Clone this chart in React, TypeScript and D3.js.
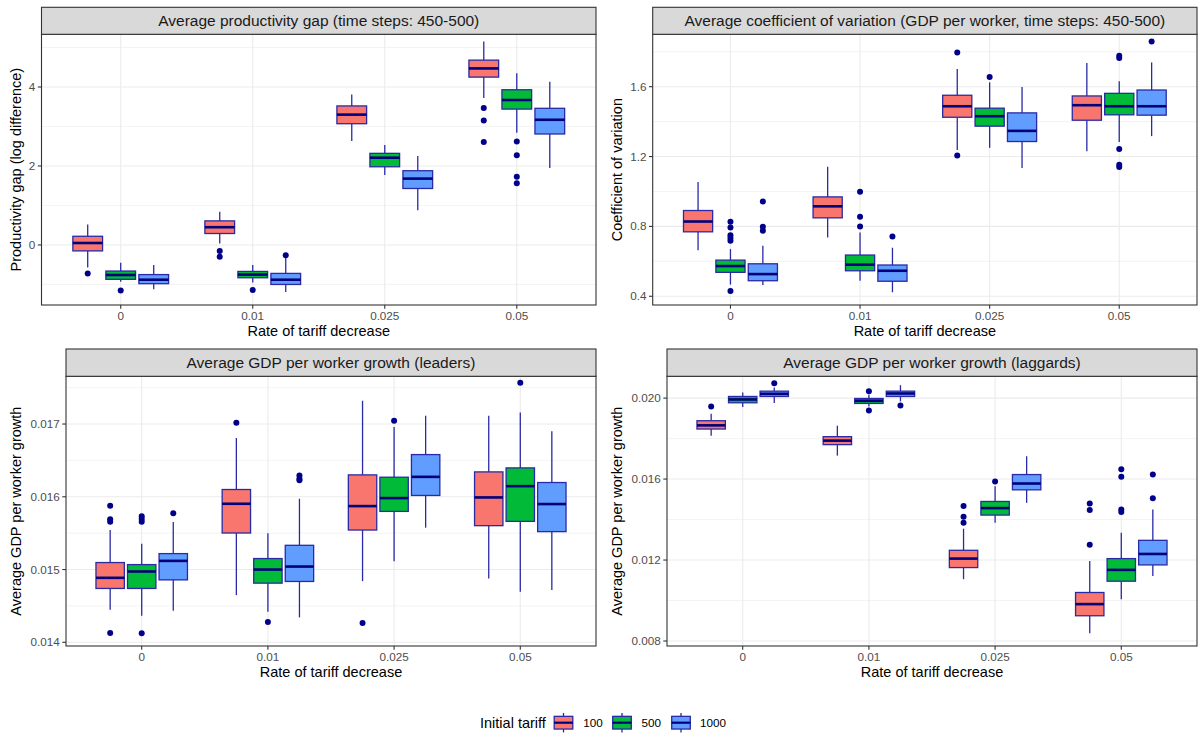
import React from "react";
import * as d3 from "d3";

// ---------- data ----------
const rates = ["0", "0.01", "0.025", "0.05"];
const tariffs = ["100", "500", "1000"];
const tariffColors = ["#F8766D", "#00BA38", "#619CFF"];

// box stats: [lower whisker, Q1, median, Q3, upper whisker]; rows = rate, cols = initial tariff
const gapBoxes = [
  [[-0.57, -0.15, 0.05, 0.22, 0.52], [-0.93, -0.87, -0.76, -0.66, -0.45], [-1.12, -0.98, -0.88, -0.75, -0.51]],
  [[0.04, 0.29, 0.45, 0.61, 0.84], [-0.95, -0.83, -0.75, -0.67, -0.51], [-1.19, -1.0, -0.88, -0.72, -0.32]],
  [[2.63, 3.07, 3.3, 3.52, 3.81], [1.77, 1.98, 2.21, 2.32, 2.53], [0.88, 1.43, 1.68, 1.88, 2.25]],
  [[3.72, 4.25, 4.47, 4.68, 5.15], [2.84, 3.44, 3.67, 3.93, 4.35], [1.95, 2.81, 3.17, 3.46, 4.13]],
];
const gapOutliers = [
  [[-0.72], [-1.15], []],
  [[-0.15, -0.3], [-1.14], [-0.26]],
  [[], [], []],
  [[3.47, 3.15, 2.61], [2.62, 2.27, 1.73, 1.56], []],
];

const cvBoxes = [
  [[0.664, 0.769, 0.828, 0.891, 1.054], [0.467, 0.537, 0.573, 0.607, 0.67], [0.465, 0.489, 0.527, 0.586, 0.689]],
  [[0.737, 0.849, 0.915, 0.969, 1.142], [0.489, 0.546, 0.581, 0.636, 0.765], [0.423, 0.486, 0.546, 0.579, 0.678]],
  [[1.237, 1.425, 1.488, 1.551, 1.701], [1.25, 1.374, 1.431, 1.477, 1.625], [1.134, 1.286, 1.347, 1.45, 1.598]],
  [[1.231, 1.408, 1.494, 1.547, 1.735], [1.283, 1.439, 1.488, 1.562, 1.631], [1.317, 1.437, 1.488, 1.581, 1.739]],
];
const cvOutliers = [
  [[], [0.826, 0.794, 0.75, 0.733, 0.718, 0.43], [0.942, 0.798, 0.775]],
  [[], [0.999, 0.855, 0.8], [0.742]],
  [[1.796, 1.206], [1.655], []],
  [[], [1.777, 1.764, 1.243, 1.153, 1.14], [1.859]],
];

const leadBoxes = [
  [[0.014447, 0.01474, 0.014886, 0.015096, 0.015543], [0.014365, 0.01474, 0.014973, 0.015068, 0.015356], [0.014434, 0.014858, 0.015119, 0.015219, 0.015653]],
  [[0.014648, 0.015502, 0.015904, 0.0161, 0.016808], [0.01442, 0.014813, 0.015, 0.015151, 0.015498], [0.014342, 0.014836, 0.015041, 0.015333, 0.015973]],
  [[0.01484, 0.015543, 0.015872, 0.016301, 0.01732], [0.015114, 0.015799, 0.015982, 0.016269, 0.016959], [0.015575, 0.016018, 0.016274, 0.01658, 0.017114]],
  [[0.014877, 0.015603, 0.015991, 0.016342, 0.017114], [0.014694, 0.015662, 0.016146, 0.016397, 0.01716], [0.014717, 0.015521, 0.0159, 0.016196, 0.0169]],
];
const leadOutliers = [
  [[0.015877, 0.01569, 0.015658, 0.014128], [0.015731, 0.015694, 0.015658, 0.014123], [0.015772]],
  [[0.017018], [0.014279], [0.016292, 0.016247, 0.016228]],
  [[0.014265], [0.017046], []],
  [[], [0.017566], []],
];

const lagBoxes = [
  [[0.018144, 0.018472, 0.018653, 0.018883, 0.019227], [0.019556, 0.019769, 0.019933, 0.020081, 0.020278], [0.019752, 0.020081, 0.020212, 0.020343, 0.020524]],
  [[0.017159, 0.017701, 0.017898, 0.018095, 0.018636], [0.019588, 0.019736, 0.019867, 0.019982, 0.020163], [0.019834, 0.020081, 0.020228, 0.020343, 0.020639]],
  [[0.011053, 0.011627, 0.012071, 0.012481, 0.013548], [0.013843, 0.014221, 0.014566, 0.014894, 0.015649], [0.014828, 0.015468, 0.01578, 0.016223, 0.017126]],
  [[0.008378, 0.009247, 0.009822, 0.010396, 0.011956], [0.010068, 0.010955, 0.011513, 0.012071, 0.013351], [0.011217, 0.011759, 0.0123, 0.012973, 0.0145]],
];
const lagOutliers = [
  [[0.019588], [], [0.020737]],
  [[], [0.020343, 0.019391], [0.019638]],
  [[0.014664, 0.014139, 0.013843], [0.015879], []],
  [[0.014795, 0.014467, 0.01276], [0.016486, 0.016109, 0.0145, 0.014369], [0.016223, 0.015058]],
];

const gapTicks = [0, 2, 4];
const cvTicks = [0.4, 0.8, 1.2, 1.6];
const leadTicks = [0.014, 0.015, 0.016, 0.017];
const lagTicks = [0.008, 0.012, 0.016, 0.02];

// ---------- style ----------
const FONT = "'Liberation Sans', Arial, Helvetica, sans-serif";
const OUTLINE = "#2A2AA6";
const MEDIAN = "#00007A";
const POINT = "#00008B";
const GRID = "#EBEBEB";
const BORDER = "#333333";

type PanelCfg = {
  title: string;
  ylab: string;
  left: number;
  right: number;
  stripTop: number;
  top: number;
  bottom: number;
  domain: [number, number];
  ticks: number[];
  fmt: (v: number) => string;
  ylabX: number;
  boxes: number[][][];
  outliers: number[][][];
};

const panels: PanelCfg[] = [
  {
    title: "Average productivity gap (time steps: 450-500)",
    ylab: "Productivity gap (log difference)",
    left: 41.5, right: 596, stripTop: 7.3, top: 34.3, bottom: 305,
    domain: [-1.52, 5.334], ticks: gapTicks, fmt: d3.format("d"), ylabX: 20.5,
    boxes: gapBoxes, outliers: gapOutliers,
  },
  {
    title: "Average coefficient of variation (GDP per worker, time steps: 450-500)",
    ylab: "Coefficient of variation",
    left: 652.7, right: 1197, stripTop: 7.3, top: 34.3, bottom: 305,
    domain: [0.35, 1.9], ticks: cvTicks, fmt: d3.format(".1f"), ylabX: 622,
    boxes: cvBoxes, outliers: cvOutliers,
  },
  {
    title: "Average GDP per worker growth (leaders)",
    ylab: "Average GDP per worker growth",
    left: 66, right: 596, stripTop: 349, top: 376.3, bottom: 646,
    domain: [0.013949, 0.017656], ticks: leadTicks, fmt: d3.format(".3f"), ylabX: 20.5,
    boxes: leadBoxes, outliers: leadOutliers,
  },
  {
    title: "Average GDP per worker growth (laggards)",
    ylab: "Average GDP per worker growth",
    left: 667, right: 1197, stripTop: 349, top: 376.3, bottom: 646,
    domain: [0.007753, 0.021077], ticks: lagTicks, fmt: d3.format(".3f"), ylabX: 622,
    boxes: lagBoxes, outliers: lagOutliers,
  },
];

function Panel({ p }: { p: PanelCfg }) {
  const x = d3.scalePoint<string>().domain(rates).range([p.left, p.right]).padding(0.6);
  const step = x.step();
  const inner = d3.scaleBand<string>().domain(tariffs).range([-0.375 * step, 0.375 * step]);
  const bw = inner.bandwidth() * 0.9;
  const y = d3.scaleLinear().domain(p.domain).range([p.bottom, p.top]);
  const minor: number[] = [];
  const tstep = p.ticks[1] - p.ticks[0];
  for (let i = -1; i < p.ticks.length + 1; i++) {
    const v = p.ticks[0] + (i + 0.5) * tstep;
    if (v > p.domain[0] && v < p.domain[1]) minor.push(v);
  }
  const cx0 = (p.left + p.right) / 2;
  const cy0 = (p.top + p.bottom) / 2;
  return (
    <g>
      <rect x={p.left} y={p.top} width={p.right - p.left} height={p.bottom - p.top} fill="#fff" />
      {minor.map((v, i) => (
        <line key={"mn" + i} x1={p.left} x2={p.right} y1={y(v)} y2={y(v)} stroke={GRID} strokeWidth={0.6} />
      ))}
      {p.ticks.map((v, i) => (
        <line key={"mj" + i} x1={p.left} x2={p.right} y1={y(v)} y2={y(v)} stroke={GRID} strokeWidth={1.1} />
      ))}
      {rates.map((r) => (
        <line key={"vx" + r} x1={x(r)} x2={x(r)} y1={p.top} y2={p.bottom} stroke={GRID} strokeWidth={1.1} />
      ))}
      {rates.map((r, i) =>
        tariffs.map((t, j) => {
          const s = p.boxes[i][j];
          const cx = (x(r) as number) + (inner(t) as number) + inner.bandwidth() / 2;
          return (
            <g key={r + "-" + t}>
              <line x1={cx} x2={cx} y1={y(s[0])} y2={y(s[1])} stroke={OUTLINE} strokeWidth={1.3} />
              <line x1={cx} x2={cx} y1={y(s[3])} y2={y(s[4])} stroke={OUTLINE} strokeWidth={1.3} />
              <rect x={cx - bw / 2} y={y(s[3])} width={bw} height={y(s[1]) - y(s[3])} fill={tariffColors[j]} stroke={OUTLINE} strokeWidth={1.3} />
              <line x1={cx - bw / 2} x2={cx + bw / 2} y1={y(s[2])} y2={y(s[2])} stroke={MEDIAN} strokeWidth={2.6} />
              {p.outliers[i][j].map((o, k) => (
                <circle key={k} cx={cx} cy={y(o)} r={3} fill={POINT} />
              ))}
            </g>
          );
        })
      )}
      <rect x={p.left} y={p.top} width={p.right - p.left} height={p.bottom - p.top} fill="none" stroke={BORDER} strokeWidth={1.1} />
      <rect x={p.left} y={p.stripTop} width={p.right - p.left} height={p.top - p.stripTop} fill="#D9D9D9" stroke={BORDER} strokeWidth={1.1} />
      <text x={cx0} y={(p.stripTop + p.top) / 2 + 5.4} textAnchor="middle" fontSize={15.5} fill="#1A1A1A" fontFamily={FONT}>
        {p.title}
      </text>
      {p.ticks.map((v, i) => (
        <g key={"yt" + i}>
          <line x1={p.left - 3.7} x2={p.left} y1={y(v)} y2={y(v)} stroke={BORDER} strokeWidth={1.1} />
          <text x={p.left - 6.3} y={y(v) + 4} textAnchor="end" fontSize={11.7} fill="#4D4D4D" fontFamily={FONT}>
            {p.fmt(v)}
          </text>
        </g>
      ))}
      {rates.map((r) => (
        <g key={"xt" + r}>
          <line x1={x(r)} x2={x(r)} y1={p.bottom} y2={p.bottom + 3.7} stroke={BORDER} strokeWidth={1.1} />
          <text x={x(r)} y={p.bottom + 14.5} textAnchor="middle" fontSize={11.7} fill="#4D4D4D" fontFamily={FONT}>
            {r}
          </text>
        </g>
      ))}
      <text x={cx0} y={p.bottom + 31} textAnchor="middle" fontSize={14.5} fill="#000" fontFamily={FONT}>
        Rate of tariff decrease
      </text>
      <text transform={`translate(${p.ylabX},${cy0}) rotate(-90)`} textAnchor="middle" fontSize={14.5} fill="#000" fontFamily={FONT}>
        {p.ylab}
      </text>
    </g>
  );
}

function Legend() {
  const keyX = [563.5, 622, 681];
  const labX = [583.3, 641.5, 700];
  const cy = 722.7;
  const kw = 18.6;
  const kh = 12.7;
  return (
    <g>
      <text x={480} y={727.5} fontSize={14.5} fill="#000" fontFamily={FONT}>
        Initial tariff
      </text>
      {tariffs.map((t, j) => (
        <g key={t}>
          <line x1={keyX[j]} x2={keyX[j]} y1={cy - 9.7} y2={cy + 9.7} stroke={OUTLINE} strokeWidth={1.3} />
          <rect x={keyX[j] - kw / 2} y={cy - kh / 2} width={kw} height={kh} fill={tariffColors[j]} stroke={OUTLINE} strokeWidth={1.3} />
          <line x1={keyX[j] - kw / 2} x2={keyX[j] + kw / 2} y1={cy} y2={cy} stroke={MEDIAN} strokeWidth={2.2} />
          <text x={labX[j]} y={cy + 4.2} fontSize={11.7} fill="#000" fontFamily={FONT}>
            {t}
          </text>
        </g>
      ))}
    </g>
  );
}

export default function App() {
  return (
    <svg width={1198} height={736} style={{ position: "absolute", left: 0, top: 0, background: "#fff" }}>
      <rect width={1198} height={736} fill="#fff" />
      {panels.map((p, i) => (
        <Panel key={i} p={p} />
      ))}
      <Legend />
    </svg>
  );
}
